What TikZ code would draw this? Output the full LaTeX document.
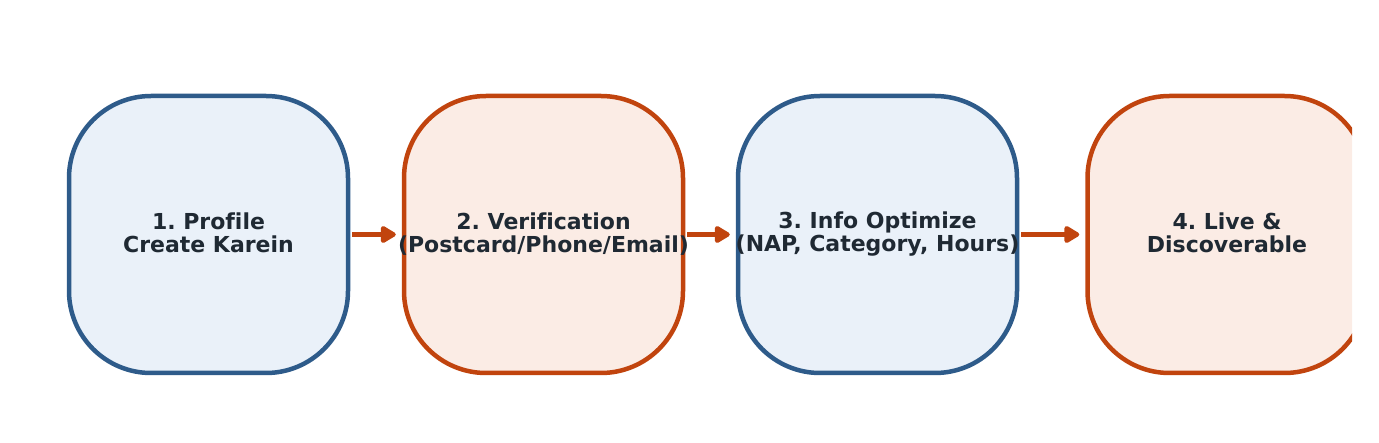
\documentclass[tikz,border=0pt]{standalone}
\usepackage{fontspec}
\setmainfont{DejaVu Sans}[Ligatures=NoCommon]
\usetikzlibrary{arrows.meta}
\definecolor{blueline}{HTML}{2E5B8A}
\definecolor{bluefill}{HTML}{EAF1F9}
\definecolor{orangeline}{HTML}{C1440E}
\definecolor{orangefill}{HTML}{FBECE5}
\definecolor{textdark}{HTML}{1F2933}
\newcommand{\ctr}[1]{\makebox[0pt]{\rule[-3pt]{0pt}{19.7pt}#1}}
\frenchspacing
\begin{document}
\begin{tikzpicture}[x=1pt, y=1pt,
    every node/.style={font=\fontsize{22}{23}\selectfont\bfseries, text=textdark, align=center},
    stagebox/.style={rectangle, rounded corners=82pt, line width=4.5pt, minimum width=279pt, minimum height=277pt, inner sep=0pt},
    bluebox/.style={stagebox, draw=blueline, fill=bluefill},
    orangebox/.style={stagebox, draw=orangeline, fill=orangefill},
    flow/.style={line width=4.5pt, orangeline, -{Triangle[round, length=17pt, width=19pt]}, shorten <=2pt, shorten >=6pt}]
    \useasboundingbox (0,0) rectangle (1379,442);
    \clip (0,0) rectangle (1352,442);
    % Stages
    \node[bluebox] (profile) at (208.5,207.5) {\ctr{1. Profile}\\\ctr{Create Karein}};
    \node[orangebox] (verify) at (543.5,207.5) {\ctr{2. Verification}\\\ctr{(Postcard/Phone/Email)}};
    \node[bluebox] (optimize) at (877.5,207.5) {\ctr{3. Info Optimize}\\\ctr{(NAP, Category, Hours)}};
    \node[orangebox] (live) at (1227,207.5) {\ctr{4. Live \&}\\\ctr{Discoverable}};
    % Arrows
    \draw[flow] (profile) -- (verify);
    \draw[flow] (verify) -- (optimize);
    \draw[flow] (optimize) -- (live);
\end{tikzpicture}
\end{document}
